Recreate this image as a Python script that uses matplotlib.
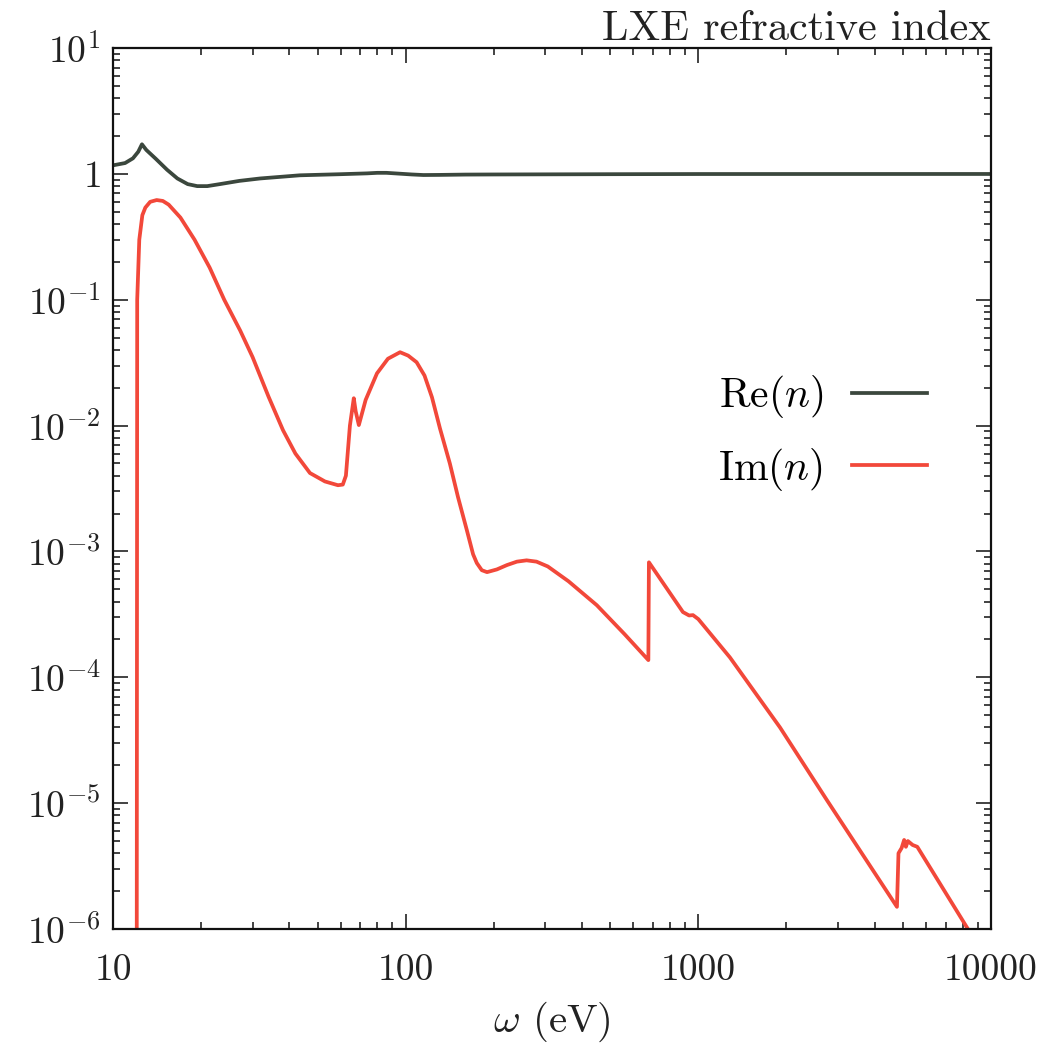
import numpy as np
import matplotlib
matplotlib.use("Agg")
import matplotlib.pyplot as plt
from matplotlib.ticker import FixedLocator, FixedFormatter, LogLocator, NullFormatter

plt.rcParams["font.family"] = "serif"
plt.rcParams["font.serif"] = ["cmr10"]
plt.rcParams["mathtext.fontset"] = "cm"
plt.rcParams["axes.formatter.use_mathtext"] = True
plt.rcParams["axes.unicode_minus"] = False

# Real part of the refractive index of liquid xenon
re_energy = [10.0, 11.0, 11.7, 12.2, 12.56, 13.0, 14.0, 15.3, 16.6, 18.0, 19.4, 21.0,
             23.2, 27.0, 31.8, 43.5, 60.0, 73.8, 80.0, 86.0, 95.0, 105.0, 115.0,
             130.0, 160.0, 200.0, 500.0, 1000.0, 10000.0]
re_n = [1.17, 1.22, 1.33, 1.50, 1.72, 1.55, 1.32, 1.08, 0.92, 0.83, 0.80, 0.80,
        0.83, 0.88, 0.92, 0.975, 0.995, 1.01, 1.02, 1.02, 1.005, 0.99, 0.98,
        0.982, 0.988, 0.99, 0.995, 0.998, 0.999]

# Imaginary part of the refractive index
im_energy = [12.05, 12.1, 12.3, 12.6, 12.9, 13.4, 14.1, 14.8, 15.5, 17.0, 19.0, 21.4,
             24.0, 27.2, 30.0, 34.0, 38.1, 42.0, 47.1, 53.0, 58.7, 61.0, 62.5, 64.5,
             66.5, 67.5, 69.2, 73.0, 79.8, 87.0, 95.7, 102.0, 109.0, 116.0, 123.0,
             131.0, 141.6, 151.0, 161.8, 170.0, 175.0, 182.0, 189.7, 205.0, 222.0,
             240.0, 259.0, 280.0, 306.0, 360.0, 450.0, 560.0, 675.0, 678.0, 886.0,
             930.0, 959.0, 1000.0, 1282.0, 1901.0, 2748.0, 4772.0, 4830.0, 4950.0,
             5050.0, 5120.0, 5200.0, 5400.0, 5600.0, 8340.0, 9000.0]
im_n = [1e-7, 0.1, 0.3, 0.47, 0.54, 0.60, 0.62, 0.61, 0.57, 0.45, 0.30, 0.18,
        0.10, 0.057, 0.035, 0.017, 0.0092, 0.006, 0.0042, 0.0036, 0.00336, 0.0034,
        0.004, 0.01, 0.0165, 0.013, 0.0101, 0.016, 0.026, 0.034, 0.0383, 0.036,
        0.0319, 0.025, 0.0168, 0.0095, 0.005, 0.0027, 0.00148, 0.00095, 0.00081,
        0.00071, 0.000685, 0.00072, 0.00078, 0.00083, 0.00085, 0.00083, 0.00076,
        0.00058, 0.000374, 0.00022, 0.000137, 0.00082, 0.00033, 0.00031, 0.000312,
        0.00029, 0.000144, 4.0e-5, 1.06e-5, 1.5e-6, 4.0e-6, 4.4e-6, 5.1e-6, 4.5e-6,
        5.0e-6, 4.65e-6, 4.5e-6, 1.0e-6, 6e-7]

x_ticks = [10, 100, 1000, 10000]
x_tick_labels = ["10", "100", "1000", "10000"]
y_ticks = [1e-6, 1e-5, 1e-4, 1e-3, 1e-2, 1e-1, 1, 10]
y_tick_labels = [r"$10^{-6}$", r"$10^{-5}$", r"$10^{-4}$", r"$10^{-3}$",
                 r"$10^{-2}$", r"$10^{-1}$", r"$1$", r"$10^{1}$"]

re_color = "#3b473d"
im_color = "#f2483a"

fig = plt.figure(figsize=(10.47, 10.45), dpi=100)
ax = fig.add_axes([0.1079, 0.111, 0.8386, 0.843])

ax.plot(re_energy, re_n, color=re_color, lw=2.7, label=r"Re$(n)$",
        solid_joinstyle="round")
ax.plot(im_energy, im_n, color=im_color, lw=2.7, label=r"Im$(n)$",
        solid_joinstyle="round")

ax.set_xscale("log")
ax.set_yscale("log")
ax.set_xlim(10, 10000)
ax.set_ylim(1e-6, 10)

ax.xaxis.set_major_locator(FixedLocator(x_ticks))
ax.xaxis.set_major_formatter(FixedFormatter(x_tick_labels))
ax.xaxis.set_minor_locator(LogLocator(base=10, subs=np.arange(2, 10), numticks=20))
ax.xaxis.set_minor_formatter(NullFormatter())
ax.yaxis.set_major_locator(FixedLocator(y_ticks))
ax.yaxis.set_major_formatter(FixedFormatter(y_tick_labels))
ax.yaxis.set_minor_locator(LogLocator(base=10, subs=np.arange(2, 10), numticks=20))
ax.yaxis.set_minor_formatter(NullFormatter())

ax.tick_params(which="both", direction="in", top=True, right=True, width=1.2,
               labelsize=27, colors="#222222")
ax.tick_params(axis="x", which="both", pad=18)
ax.tick_params(axis="y", which="both", pad=9)
ax.tick_params(which="major", length=11)
ax.tick_params(which="minor", length=5)
for s in ax.spines.values():
    s.set_linewidth(1.6)
    s.set_color("#111111")

ax.set_xlabel(r"$\omega$ (eV)", fontsize=29.5, labelpad=9, color="#222222")
ax.set_title("LXE refractive index", loc="right", fontsize=30.5, pad=2,
             color="#222222")

leg = ax.legend(loc="center right", bbox_to_anchor=(0.97, 0.563), frameon=False,
                markerfirst=False, fontsize=30, handlelength=1.8, handletextpad=0.7,
                labelspacing=0.62)

fig.savefig("out.png", dpi=100)
